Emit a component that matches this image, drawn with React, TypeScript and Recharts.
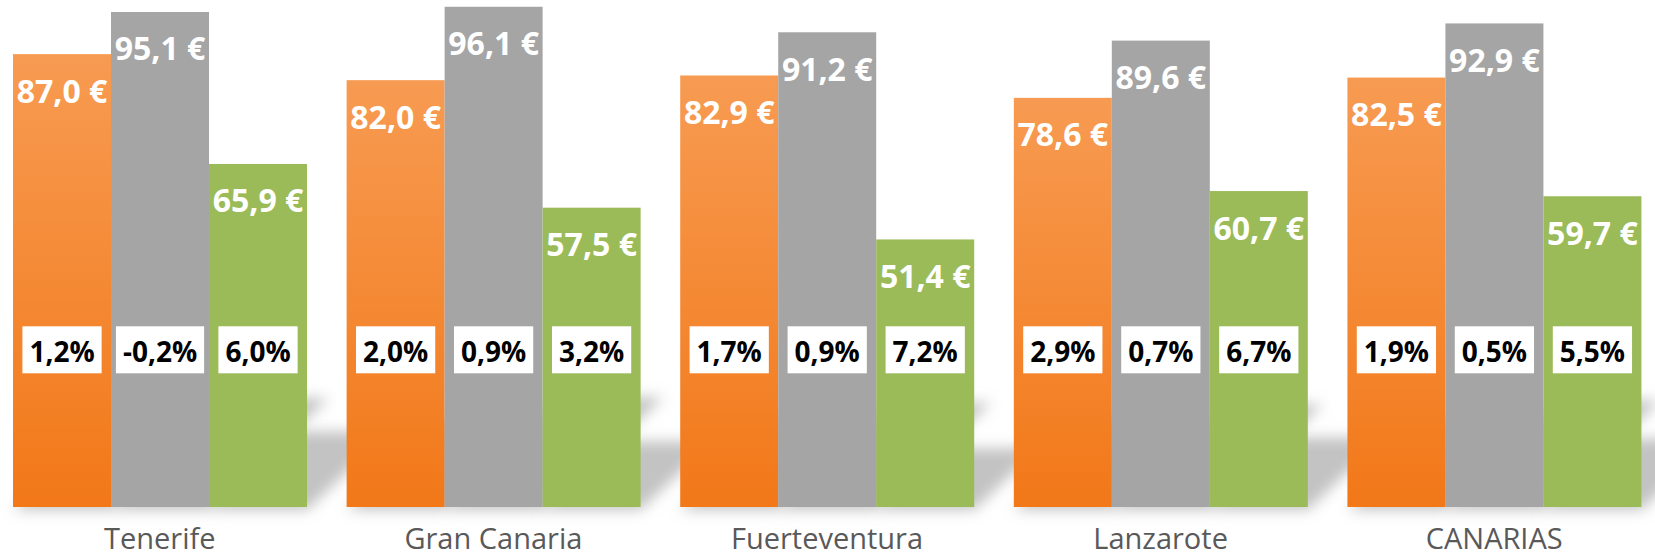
import { BarChart, Bar, XAxis, YAxis, LabelList } from 'recharts';

const categories = ['Tenerife', 'Gran Canaria', 'Fuerteventura', 'Lanzarote', 'CANARIAS'];
const orangeValues = [87.0, 82.0, 82.9, 78.6, 82.5];
const grayValues = [95.1, 96.1, 91.2, 89.6, 92.9];
const greenValues = [65.9, 57.5, 51.4, 60.7, 59.7];
const orangeChange = [1.2, 2.0, 1.7, 2.9, 1.9];
const grayChange = [-0.2, 0.9, 0.9, 0.7, 0.5];
const greenChange = [6.0, 3.2, 7.2, 6.7, 5.5];

const data = categories.map((name, i) => ({
  name,
  a: orangeValues[i],
  b: grayValues[i],
  c: greenValues[i],
  pa: orangeChange[i],
  pb: grayChange[i],
  pc: greenChange[i],
}));

const FONT = '"Open Sans", "Noto Sans", sans-serif';
const PCT_LEVEL = 30.2; // y-axis value where the % boxes sit
const Y_MAX = 97.4;

const fmtEuro = (v: number) => v.toFixed(1).replace('.', ',') + ' €';
const fmtPct = (v: number) => v.toFixed(1).replace('.', ',') + '%';

// rough Open Sans Bold advance widths
const textWidth = (s: string, size: number) => {
  let w = 0;
  for (const ch of s) {
    if (ch === ',') w += 0.29;
    else if (ch === '%') w += 0.86;
    else if (ch === '-') w += 0.32;
    else w += 0.572;
  }
  return w * size;
};

function BarShape(props: any) {
  const { x, y, width, height, fill, payload, pctKey, valueKey, shadow } = props;
  const base = y + height;
  const v = payload[valueKey];
  const levelY = base - (PCT_LEVEL / v) * height;
  const pctText = fmtPct(payload[pctKey]);
  const pctSize = 28;
  const boxW = textWidth(pctText, pctSize) + 15;
  const boxH = 47;
  const cx = x + width / 2;

  // soft perspective shadow behind the whole group, drawn under the first series
  const shadows = shadow
    ? ['a', 'b', 'c'].map((k, j) => {
        const h = (height * payload[k]) / v;
        const bx = x + j * width;
        const sh = 0.22 * h;
        const dx = 1.1 * sh;
        const pts = [
          [bx, base + 3],
          [bx + width, base + 3],
          [bx + width + dx, base - sh],
          [bx + dx, base - sh],
        ]
          .map((p) => p.join(','))
          .join(' ');
        return <polygon key={k} points={pts} fill="#c3c3c3" filter="url(#shadow-blur)" />;
      })
    : null;

  return (
    <g>
      {shadows}
      <rect x={x} y={y} width={width} height={height} fill={fill} />
      <rect x={cx - boxW / 2} y={levelY - boxH / 2} width={boxW} height={boxH} fill="#ffffff" />
      <text
        x={cx}
        y={levelY + 1}
        textAnchor="middle"
        dominantBaseline="central"
        fontFamily={FONT}
        fontWeight={700}
        fontSize={pctSize}
        fill="#000000"
      >
        {pctText}
      </text>
    </g>
  );
}

const renderValue = (props: any) => {
  const { x, y, width, value } = props;
  return (
    <text
      x={x + width / 2}
      y={y + 36}
      textAnchor="middle"
      dominantBaseline="central"
      fontFamily={FONT}
      fontWeight={700}
      fontSize={32}
      fill="#ffffff"
    >
      {fmtEuro(value)}
    </text>
  );
};

const CategoryTick = (props: any) => {
  const { x, y, payload } = props;
  return (
    <text x={x} y={y + 42} textAnchor="middle" fontFamily={FONT} fontSize={29} fill="#595959">
      {payload.value}
    </text>
  );
};

export default function App() {
  return (
    <div style={{ position: 'absolute', left: 0, top: 0, width: 1655, height: 555, overflow: 'hidden', background: '#fff' }}>
      <div style={{ marginLeft: -7 }}>
        <BarChart
          width={1668}
          height={555}
          data={data}
          margin={{ top: 0, right: 0, left: 0, bottom: 0 }}
          barCategoryGap="6%"
          barGap={0}
        >
          <defs>
            <linearGradient id="orange-grad" x1="0" y1="0" x2="0" y2="1">
              <stop offset="0%" stopColor="#f79b52" />
              <stop offset="100%" stopColor="#f27818" />
            </linearGradient>
            <filter id="shadow-blur" x="-50%" y="-50%" width="200%" height="200%">
              <feGaussianBlur stdDeviation="7" />
            </filter>
          </defs>
          <XAxis
            dataKey="name"
            height={48}
            axisLine={false}
            tickLine={false}
            tickSize={0}
            tickMargin={0}
            interval={0}
            tick={<CategoryTick />}
          />
          <YAxis hide domain={[0, Y_MAX]} />
          <Bar
            dataKey="a"
            fill="url(#orange-grad)"
            isAnimationActive={false}
            shape={(p: any) => <BarShape {...p} valueKey="a" pctKey="pa" shadow />}
          >
            <LabelList dataKey="a" content={renderValue} />
          </Bar>
          <Bar
            dataKey="b"
            fill="#a5a5a5"
            isAnimationActive={false}
            shape={(p: any) => <BarShape {...p} valueKey="b" pctKey="pb" />}
          >
            <LabelList dataKey="b" content={renderValue} />
          </Bar>
          <Bar
            dataKey="c"
            fill="#9bbb59"
            isAnimationActive={false}
            shape={(p: any) => <BarShape {...p} valueKey="c" pctKey="pc" />}
          >
            <LabelList dataKey="c" content={renderValue} />
          </Bar>
        </BarChart>
      </div>
    </div>
  );
}
